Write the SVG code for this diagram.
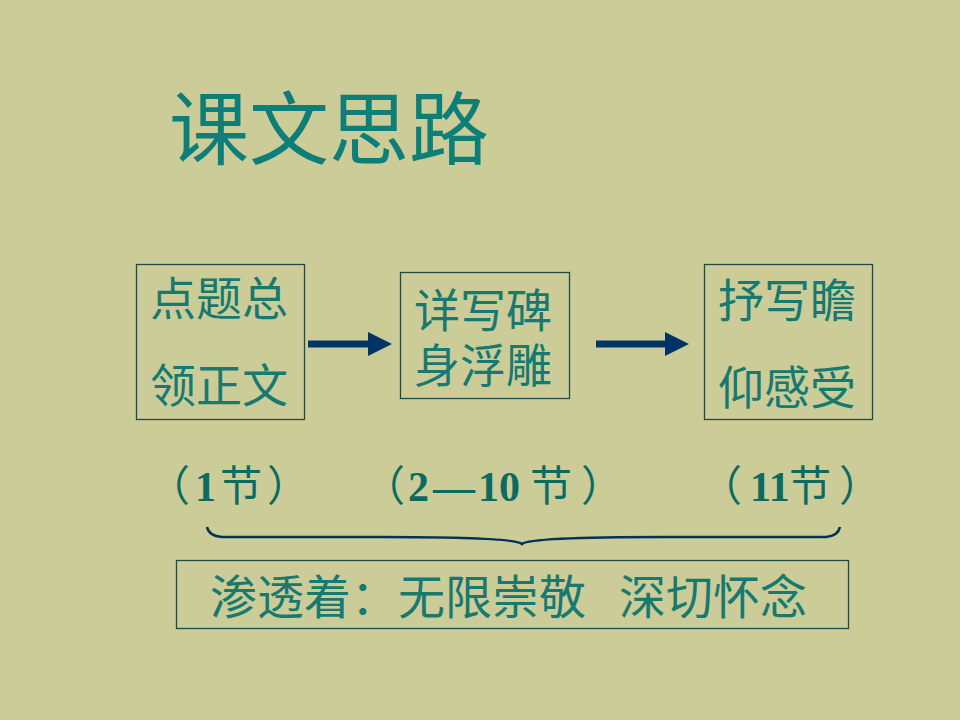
<svg xmlns="http://www.w3.org/2000/svg" width="960" height="720" viewBox="0 0 960 720">
<style>
.bg{fill:#CCCC99}
.box{fill:none;stroke:#1F4A45;stroke-width:1.3}
.t{font-family:"Noto Sans CJK SC","Noto Sans",sans-serif;fill:#167A70;text-anchor:middle;font-size:46px}
.t2{font-family:"Noto Sans CJK SC","Noto Sans",sans-serif;fill:#167A70;font-size:47px}
.title{font-family:"Noto Sans CJK SC","Noto Sans",sans-serif;fill:#0E7F78;font-size:80px}
.lbl{font-family:"Liberation Serif","Noto Sans CJK SC",serif;fill:#0B6B60;font-size:42px}
.cjk{font-family:"Noto Sans CJK SC",sans-serif}
.num{font-weight:bold}
.arrow{stroke:#003366;stroke-width:7;fill:none}
</style>
<defs>
<marker id="ah" markerWidth="24" markerHeight="24" refX="0" refY="12" orient="auto" markerUnits="userSpaceOnUse">
<path d="M0,0 L24,12 L0,24 Z" fill="#003366"/>
</marker>
</defs>
<rect class="bg" x="0" y="0" width="960" height="720"/>
<text class="title" x="169" y="158">课文思路</text>
<g id="node1">
<rect class="box" x="136.5" y="264.5" width="168" height="155"/>
<text class="t" x="219" y="315">点题总</text>
<text class="t" x="219" y="402">领正文</text>
</g>
<g id="node2">
<rect class="box" x="400.5" y="272.5" width="169" height="126"/>
<text class="t" x="483" y="327">详写碑</text>
<text class="t" x="483" y="382">身浮雕</text>
</g>
<g id="node3">
<rect class="box" x="704.5" y="264.5" width="168" height="155"/>
<text class="t" x="787" y="317">抒写瞻</text>
<text class="t" x="787" y="404">仰感受</text>
</g>
<g id="labels">
<text class="lbl" y="501"><tspan class="cjk" x="148">（</tspan><tspan class="num" x="195">1</tspan><tspan class="cjk" x="220">节</tspan><tspan class="cjk" x="267">）</tspan></text>
<text class="lbl" y="501"><tspan class="cjk" x="363">（</tspan><tspan class="num" x="408">2</tspan><tspan class="num" x="433">—</tspan><tspan class="num" x="478">10</tspan><tspan class="cjk" x="530">节</tspan><tspan class="cjk" x="581">）</tspan></text>
<text class="lbl" y="501"><tspan class="cjk" x="700">（</tspan><tspan class="num" x="750">11</tspan><tspan class="cjk" x="789">节</tspan><tspan class="cjk" x="839">）</tspan></text>
</g>
<g id="connectors">
<line class="arrow" x1="308" y1="344" x2="368" y2="344" marker-end="url(#ah)"/>
<line class="arrow" x1="596" y1="344" x2="665" y2="344" marker-end="url(#ah)"/>
<path d="M207,527 Q209,536 222,537 L380,537 Q515,537 522,544 Q529,537 664,537 L826,537 Q838,536 840,527" fill="none" stroke="#003355" stroke-width="2.5"/>
</g>
<g id="summary">
<rect class="box" x="176.5" y="560.5" width="672" height="68" stroke="#2E7A6E"/>
<text class="t2" y="614"><tspan x="210">渗透着：无限崇敬 </tspan><tspan x="619">深切怀念</tspan></text>
</g>
</svg>
